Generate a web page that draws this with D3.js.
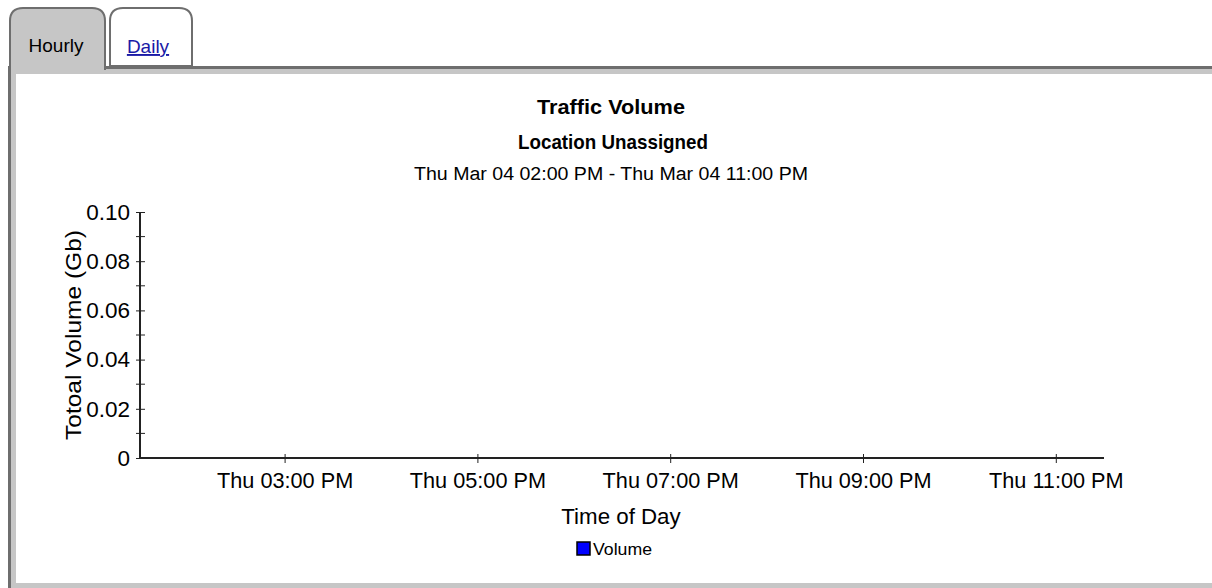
<!DOCTYPE html>
<html>
<head>
<meta charset="utf-8">
<script src="https://cdn.jsdelivr.net/npm/d3@7"></script>
<style>
  body { margin: 0; background: #fff; }
  text { font-family: "Liberation Sans", Arial, sans-serif; fill: #000; }
</style>
</head>
<body>
<div id="canvas"></div>
<script>
// chart data (the report has no samples in this window)
var tabs = ["Hourly", "Daily"]
var titleLines = ["Traffic Volume", "Location Unassigned"]
var rangeText = "Thu Mar 04 02:00 PM - Thu Mar 04 11:00 PM"
var xTickHours = [15, 17, 19, 21, 23]
var yTicks = [0, 0.02, 0.04, 0.06, 0.08, 0.10]
var yMinorTicks = [0.01, 0.03, 0.05, 0.07, 0.09]
var seriesNames = ["Volume"]
var volumeTimes = []
var volumeValues = []

var width = 1212
var height = 588

var svg = d3.select("#canvas")
    .append("svg")
    .attr("width", width)
    .attr("height", height)

// tab panel frame
svg.append("rect").attr("x", 8).attr("y", 66).attr("width", 1210).attr("height", 530).attr("fill", "#c6c6c6")
svg.append("rect").attr("x", 8).attr("y", 66).attr("width", 3).attr("height", 530).attr("fill", "#6e6e6e")
svg.append("rect").attr("x", 8).attr("y", 66).attr("width", 1210).attr("height", 3).attr("fill", "#6e6e6e")
svg.append("rect").attr("x", 16).attr("y", 74).attr("width", 1200).attr("height", 509).attr("fill", "#fff")

// tabs
function tabPath(x0, x1, y0, y1, r) {
    return "M" + x0 + "," + y1 + " L" + x0 + "," + (y0 + r) +
        " Q" + x0 + "," + y0 + " " + (x0 + r) + "," + y0 +
        " L" + (x1 - r) + "," + y0 + " Q" + x1 + "," + y0 + " " + x1 + "," + (y0 + r) +
        " L" + x1 + "," + y1
}
svg.append("path").attr("d", tabPath(10, 105, 8, 70, 13))
    .attr("fill", "#c6c6c6").attr("stroke", "#6e6e6e").attr("stroke-width", 2)
svg.append("path").attr("d", tabPath(110, 192, 8, 66, 13) + " Z")
    .attr("fill", "#fff").attr("stroke", "#6e6e6e").attr("stroke-width", 2)
svg.append("rect").attr("x", 11).attr("y", 66).attr("width", 93).attr("height", 8).attr("fill", "#c6c6c6")

svg.append("text").attr("x", 56).attr("y", 52).attr("text-anchor", "middle")
    .style("font-size", "19px").text(tabs[0])
svg.append("text").attr("x", 148).attr("y", 53).attr("text-anchor", "middle")
    .style("font-size", "19px").style("fill", "#1a1aa6").style("text-decoration", "underline")
    .text(tabs[1])

// titles
svg.append("text").attr("x", 611).attr("y", 114).attr("text-anchor", "middle")
    .attr("textLength", 148).attr("lengthAdjust", "spacingAndGlyphs")
    .style("font-size", "20.5px").style("font-weight", "bold").text(titleLines[0])
svg.append("text").attr("x", 613).attr("y", 149).attr("text-anchor", "middle")
    .attr("textLength", 190).attr("lengthAdjust", "spacingAndGlyphs")
    .style("font-size", "20.5px").style("font-weight", "bold").text(titleLines[1])
svg.append("text").attr("x", 611).attr("y", 180).attr("text-anchor", "middle")
    .attr("textLength", 394).attr("lengthAdjust", "spacingAndGlyphs")
    .style("font-size", "18px").text(rangeText)

// scales
var day = function (h, m) { return new Date(2004, 2, 4, h, m || 0) }
var xScale = d3.scaleTime().domain([day(13, 30), day(23, 30)]).range([140, 1104])
var yScale = d3.scaleLinear().domain([0, 0.10]).range([458, 212])

var xAxis = svg.append("g")
    .attr("transform", "translate(0,458)")
    .call(d3.axisBottom(xScale)
        .tickValues(xTickHours.map(function (h) { return day(h) }))
        .tickFormat(d3.timeFormat("Thu %I:%M %p"))
        .tickSize(5)
        .tickPadding(10))
xAxis.select(".domain").attr("d", "M140,0H1104").attr("stroke", "#222").attr("stroke-width", 2)
xAxis.selectAll(".tick line").attr("y1", -4).attr("y2", 5).attr("stroke", "#222")
xAxis.selectAll(".tick text").style("font-size", "21.7px").style("font-family", null)

var yAxis = svg.append("g")
    .attr("transform", "translate(140,0)")
    .call(d3.axisLeft(yScale)
        .tickValues(yTicks)
        .tickFormat(function (d) { return d === 0 ? "0" : d3.format(".2f")(d) })
        .tickSize(4)
        .tickPadding(6))
yAxis.select(".domain").attr("d", "M0,212V458").attr("stroke", "#222").attr("stroke-width", 2)
yAxis.selectAll(".tick line").attr("x1", -4).attr("x2", 5).attr("stroke", "#222")
yAxis.selectAll(".tick text").style("font-size", "22.5px").style("font-family", null)

yAxis.selectAll(".minor")
    .data(yMinorTicks)
    .enter()
    .append("line")
    .attr("class", "minor")
    .attr("x1", -4).attr("x2", 5)
    .attr("y1", function (d) { return yScale(d) })
    .attr("y2", function (d) { return yScale(d) })
    .attr("stroke", "#222")

// series (empty in this window)
var line = d3.line()
    .x(function (d, i) { return xScale(volumeTimes[i]) })
    .y(function (d) { return yScale(d) })
svg.append("path").datum(volumeValues)
    .attr("d", line).attr("fill", "none").attr("stroke", "blue").attr("stroke-width", 2)

// axis titles
svg.append("text").attr("x", 621).attr("y", 524).attr("text-anchor", "middle")
    .style("font-size", "22.3px").text("Time of Day")
svg.append("text").attr("transform", "translate(81,335) rotate(-90)").attr("text-anchor", "middle")
    .attr("textLength", 210).attr("lengthAdjust", "spacingAndGlyphs")
    .style("font-size", "22.5px").text("Totoal Volume (Gb)")

// legend
var legend = svg.append("g").attr("transform", "translate(577,542)")
legend.selectAll("rect").data(seriesNames).enter().append("rect")
    .attr("width", 13).attr("height", 13).attr("fill", "blue").attr("stroke", "#000").attr("stroke-width", 1.5)
legend.selectAll("text").data(seriesNames).enter().append("text")
    .attr("x", 16).attr("y", 13).attr("textLength", 59).attr("lengthAdjust", "spacingAndGlyphs")
    .style("font-size", "17px")
    .text(function (d) { return d })
</script>
</body>
</html>
